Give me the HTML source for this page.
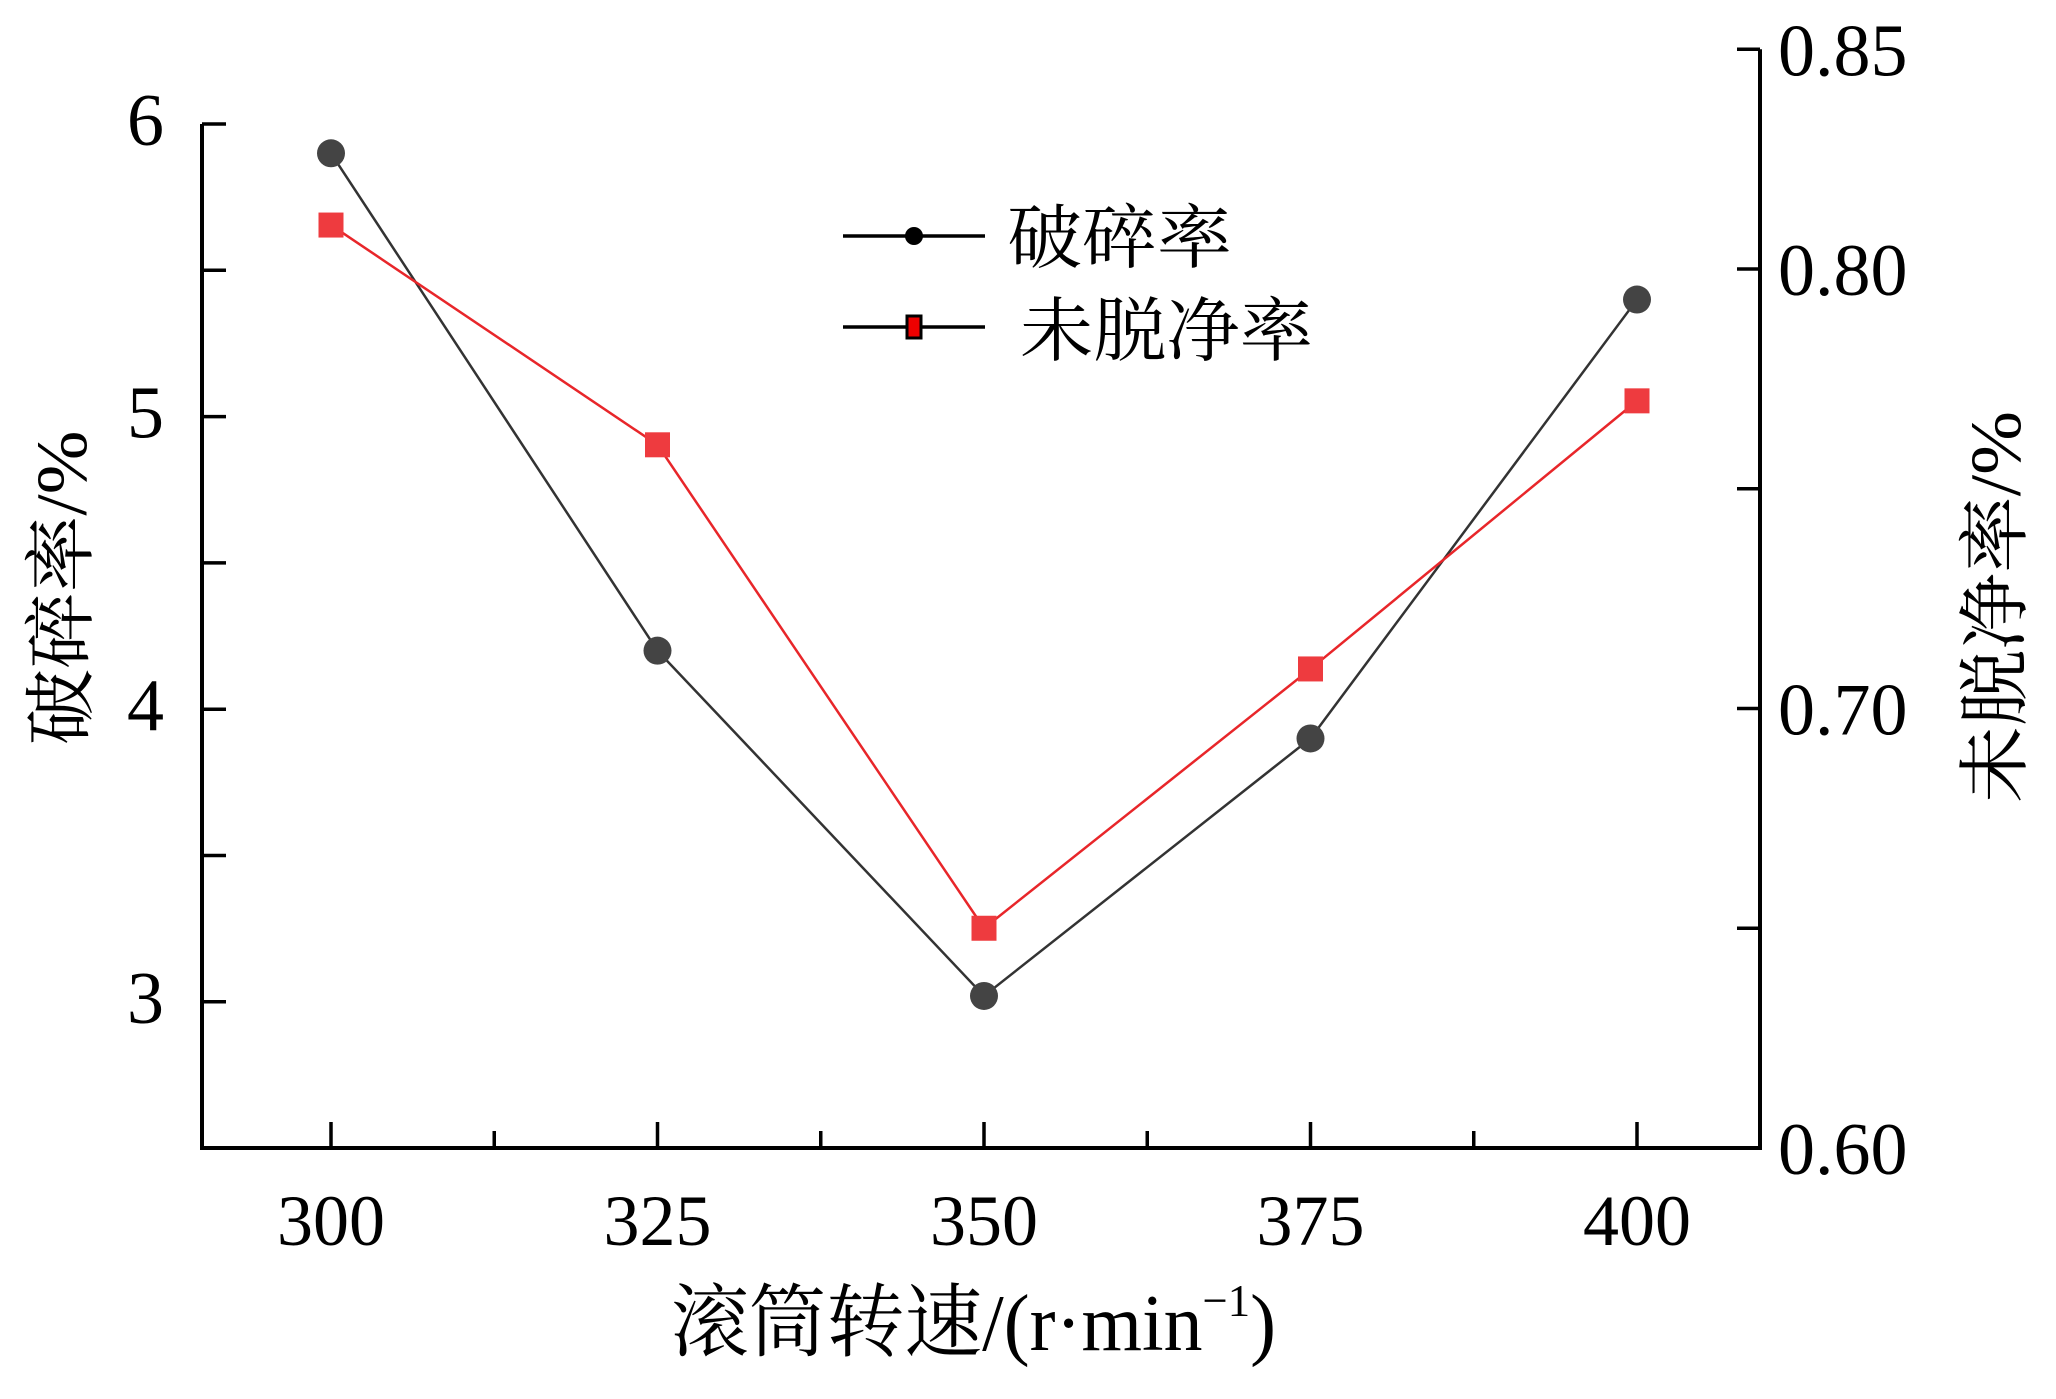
<!DOCTYPE html>
<html><head><meta charset="utf-8"><style>
html,body{margin:0;padding:0;background:#fff;}
svg{display:block;}
text{font-family:"Liberation Serif","Noto Serif CJK SC",serif;fill:#000;}
</style></head><body>
<svg id="chart" width="2056" height="1399" viewBox="0 0 2056 1399" xmlns="http://www.w3.org/2000/svg">
<g id="axes"></g><g id="series"></g>
<g>
 <g>
  <line x1="843" y1="236" x2="985" y2="236" stroke="#000" stroke-width="3.5"/>
  <circle cx="914" cy="236" r="9" fill="#000"/>
  <text x="1007" y="262" font-size="70" textLength="225" lengthAdjust="spacingAndGlyphs">破碎率</text>
 </g>
 <g>
  <line x1="843" y1="327" x2="985" y2="327" stroke="#000" stroke-width="3.5"/>
  <rect x="907" y="316" width="14" height="22" fill="#e00" stroke="#000" stroke-width="3"/>
  <text x="1020" y="355" font-size="70" textLength="293" lengthAdjust="spacingAndGlyphs">未脱净率</text>
 </g>
</g>
<text transform="translate(86,588) rotate(-90)" text-anchor="middle" font-size="72" textLength="315" lengthAdjust="spacingAndGlyphs">破碎率/%</text>
<text transform="translate(2020,607) rotate(-90)" text-anchor="middle" font-size="72" textLength="392" lengthAdjust="spacingAndGlyphs">未脱净率/%</text>
<text x="671" y="1350" font-size="80" textLength="605" lengthAdjust="spacingAndGlyphs">滚筒转速/(r·min<tspan dy="-34" font-size="46">−1</tspan><tspan dy="34">)</tspan></text>
</svg>
<script>
const categories = [300, 325, 350, 375, 400];
const breakageValues = [5.9, 4.2, 3.02, 3.9, 5.4];
const unthreshedValues = [0.81, 0.76, 0.65, 0.709, 0.77];
const xTicks = [300, 325, 350, 375, 400];
const leftTicks = ["3", "4", "5", "6"];
const rightTicks = ["0.60", "0.70", "0.80", "0.85"];

const NS = "http://www.w3.org/2000/svg";
const L = 202, R = 1760, B = 1148;
const xs = v => 331 + (v - 300) / 25 * 326.5;
const yl = v => 124 + (6 - v) * 292.6;
const yr = v => B - (v - 0.60) / 0.05 * 219.75;
function mk(tag, attrs, parent) {
  const e = document.createElementNS(NS, tag);
  for (const k in attrs) e.setAttribute(k, attrs[k]);
  parent.appendChild(e); return e;
}
const ax = document.getElementById('axes');
const sr = document.getElementById('series');
let e;
e = mk('line', {x1: L, y1: yl(6), x2: L, y2: B + 2, stroke: '#000', 'stroke-width': 4}, ax);


e = mk('line', {x1: R, y1: yr(0.85), x2: R, y2: B + 2, stroke: '#000', 'stroke-width': 4}, ax);


e = mk('line', {x1: L, y1: B, x2: R, y2: B, stroke: '#000', 'stroke-width': 4}, ax);



xTicks.forEach(v => {
  const x = xs(v);
  mk('line', {x1: x, y1: B, x2: x, y2: B - 26, stroke: '#000', 'stroke-width': 3.5}, ax);
  if (v < 400) mk('line', {x1: xs(v + 12.5), y1: B, x2: xs(v + 12.5), y2: B - 17, stroke: '#000', 'stroke-width': 3.5}, ax);
  const t = mk('text', {x: x, y: 1245, 'text-anchor': 'middle', 'font-size': 72}, ax);
  t.textContent = v;
  
  
});
leftTicks.forEach(s => {
  const v = parseFloat(s), y = yl(v);
  mk('line', {x1: L, y1: y, x2: L + 24, y2: y, stroke: '#000', 'stroke-width': 3.5}, ax);
  if (v > 3) mk('line', {x1: L, y1: yl(v - 0.5), x2: L + 24, y2: yl(v - 0.5), stroke: '#000', 'stroke-width': 3.5}, ax);
  const t = mk('text', {x: 164, y: y + 21, 'text-anchor': 'end', 'font-size': 74}, ax);
  t.textContent = s;
  
  
});
[0.65, 0.70, 0.75, 0.80, 0.85].forEach(v => {
  mk('line', {x1: R, y1: yr(v), x2: R - 23, y2: yr(v), stroke: '#000', 'stroke-width': 3.5}, ax);
});
rightTicks.forEach(s => {
  const y = yr(parseFloat(s));
  const t = mk('text', {x: 1778, y: y + 26, 'font-size': 74}, ax);
  t.textContent = s;
  
  
});

e = mk('polyline', {points: categories.map((c, i) => xs(c) + ',' + yl(breakageValues[i])).join(' '), fill: 'none', stroke: '#333', 'stroke-width': 2.5}, sr);


e = mk('polyline', {points: categories.map((c, i) => xs(c) + ',' + yr(unthreshedValues[i])).join(' '), fill: 'none', stroke: '#e8262a', 'stroke-width': 2.5}, sr);


categories.forEach((c, i) => {
  const p = mk('circle', {cx: xs(c), cy: yl(breakageValues[i]), r: 14, fill: '#444'}, sr);
  
  
  const q = mk('rect', {x: xs(c) - 12.5, y: yr(unthreshedValues[i]) - 12.5, width: 25, height: 25, fill: '#ee3b3f'}, sr);
  
  
});
</script>
</body></html>
